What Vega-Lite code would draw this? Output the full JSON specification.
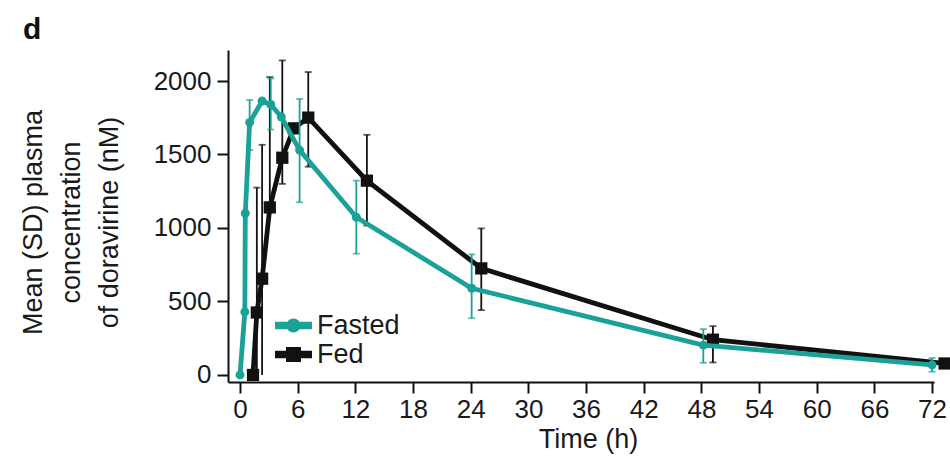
{
  "$schema": "https://vega.github.io/schema/vega-lite/v6.json",
  "autosize": {"type": "none"},
  "padding": {"left": 228, "top": 50, "right": 16, "bottom": 81},
  "width": 706,
  "height": 332,
  "background": "white",
  "title": {"text": "d", "anchor": "start", "frame": "group", "dx": -205, "dy": 32, "offset": 13, "baseline": "alphabetic", "fontSize": 30, "fontWeight": "bold", "font": "Liberation Sans", "color": "#111111"},
  "config": {
    "view": {"stroke": null},
    "font": "Liberation Sans",
    "axis": {"grid": false, "domainColor": "#111111", "domainWidth": 2, "tickColor": "#111111", "tickWidth": 2, "tickSize": 11, "labelFont": "Liberation Sans", "labelFontSize": 26, "labelColor": "#1a1a1a", "titleFont": "Liberation Sans", "titleFontSize": 27, "titleFontWeight": "normal", "titleColor": "#1a1a1a"}
  },
  "resolve": {"scale": {"color": "independent"}, "legend": {"color": "independent"}},
  "datasets": {
    "pk": [
      {"group": "Fasted", "time": 0, "conc": 0},
      {"group": "Fasted", "time": 0.5, "conc": 429},
      {"group": "Fasted", "time": 0.55, "conc": 1100},
      {"group": "Fasted", "time": 1.0, "conc": 1718, "lo": 1530, "hi": 1871},
      {"group": "Fasted", "time": 2.3, "conc": 1864},
      {"group": "Fasted", "time": 3.2, "conc": 1840, "lo": 1670, "hi": 2017},
      {"group": "Fasted", "time": 4.3, "conc": 1755},
      {"group": "Fasted", "time": 6.2, "conc": 1530, "lo": 1175, "hi": 1878},
      {"group": "Fasted", "time": 12.1, "conc": 1073, "lo": 825, "hi": 1322},
      {"group": "Fasted", "time": 24.1, "conc": 590, "lo": 386, "hi": 820},
      {"group": "Fasted", "time": 48.2, "conc": 203, "lo": 83, "hi": 312},
      {"group": "Fasted", "time": 72, "conc": 68, "lo": 22, "hi": 115},
      {"group": "Fed", "time": 1.35, "conc": 0},
      {"group": "Fed", "time": 1.75, "conc": 425, "lo": 0, "hi": 1275},
      {"group": "Fed", "time": 2.3, "conc": 655, "lo": 0, "hi": 1566},
      {"group": "Fed", "time": 3.1, "conc": 1140, "lo": 1140, "hi": 2027},
      {"group": "Fed", "time": 4.4, "conc": 1478, "lo": 1300, "hi": 2140},
      {"group": "Fed", "time": 5.6, "conc": 1678},
      {"group": "Fed", "time": 7.1, "conc": 1751, "lo": 1417, "hi": 2061},
      {"group": "Fed", "time": 13.2, "conc": 1322, "lo": 1017, "hi": 1634},
      {"group": "Fed", "time": 25.1, "conc": 725, "lo": 441, "hi": 997},
      {"group": "Fed", "time": 49.2, "conc": 240, "lo": 85, "hi": 332},
      {"group": "Fed", "time": 73.3, "conc": 78, "lo": 55, "hi": 100}
    ]
  },
  "data": {"name": "pk"},
  "encoding": {
    "x": {"field": "time", "type": "quantitative", "scale": {"domain": [-1.25, 72.2], "nice": false, "zero": false},
      "axis": {"values": [0, 6, 12, 18, 24, 30, 36, 42, 48, 54, 60, 66, 72], "title": "Time (h)", "labelPadding": 3, "titleY": 65, "titleBaseline": "alphabetic", "titleX": 360, "titleFontSize": 27}},
    "color": {"field": "group", "type": "nominal", "scale": {"domain": ["Fasted", "Fed"], "range": ["#1aa198", "#111111"]}, "legend": null}
  },
  "layer": [
    {
      "transform": [{"filter": "datum.group === 'Fed' && datum.hi != null"}],
      "mark": {"type": "rule", "strokeWidth": 1.8, "clip": false},
      "encoding": {
        "y": {"field": "lo", "type": "quantitative", "scale": {"domain": [-48, 2211], "nice": false, "zero": false},
          "axis": {"values": [0, 500, 1000, 1500, 2000], "format": "d", "labelPadding": 6, "title": ["Mean (SD) plasma", "concentration", "of doravirine (nM)"], "titleAngle": -90, "titleX": -187, "titleY": 172, "titleAlign": "center", "titleBaseline": "alphabetic", "titleLineHeight": 38}},
        "y2": {"field": "hi"}
      }
    },
    {
      "transform": [{"filter": "datum.group === 'Fed' && datum.hi != null"}],
      "mark": {"type": "tick", "orient": "horizontal", "size": 7, "thickness": 1.8},
      "encoding": {"y": {"field": "hi", "type": "quantitative"}}
    },
    {
      "transform": [{"filter": "datum.group === 'Fed' && datum.lo > 10"}],
      "mark": {"type": "tick", "orient": "horizontal", "size": 7, "thickness": 1.8},
      "encoding": {"y": {"field": "lo", "type": "quantitative"}}
    },
    {
      "transform": [{"filter": "datum.group === 'Fed'"}],
      "mark": {"type": "line", "strokeWidth": 4.8, "clip": false},
      "encoding": {"y": {"field": "conc", "type": "quantitative"}}
    },
    {
      "transform": [{"filter": "datum.group === 'Fed'"}],
      "mark": {"type": "point", "shape": "square", "filled": true, "opacity": 1, "size": 150, "clip": false},
      "encoding": {"y": {"field": "conc", "type": "quantitative"}}
    },
    {
      "transform": [{"filter": "datum.group === 'Fasted' && datum.hi != null"}],
      "mark": {"type": "rule", "strokeWidth": 1.8},
      "encoding": {"y": {"field": "lo", "type": "quantitative"}, "y2": {"field": "hi"}}
    },
    {
      "transform": [{"filter": "datum.group === 'Fasted' && datum.hi != null"}],
      "mark": {"type": "tick", "orient": "horizontal", "size": 7, "thickness": 1.8},
      "encoding": {"y": {"field": "hi", "type": "quantitative"}}
    },
    {
      "transform": [{"filter": "datum.group === 'Fasted' && datum.lo > 10"}],
      "mark": {"type": "tick", "orient": "horizontal", "size": 7, "thickness": 1.8},
      "encoding": {"y": {"field": "lo", "type": "quantitative"}}
    },
    {
      "transform": [{"filter": "datum.group === 'Fasted'"}],
      "mark": {"type": "line", "strokeWidth": 4.8},
      "encoding": {"y": {"field": "conc", "type": "quantitative"}}
    },
    {
      "transform": [{"filter": "datum.group === 'Fasted'"}],
      "mark": {"type": "point", "shape": "circle", "filled": true, "opacity": 1, "size": 80},
      "encoding": {"y": {"field": "conc", "type": "quantitative"}}
    },
    {
      "mark": {"type": "point", "filled": true, "opacity": 0},
      "encoding": {
        "y": {"field": "conc", "type": "quantitative"},
        "color": {"field": "group", "type": "nominal",
          "scale": {"domain": ["Fasted", "Fed"], "range": ["#1aa198", "#111111"]},
          "legend": {"orient": "none", "legendX": 52, "legendY": 262, "title": null, "symbolSize": 400, "symbolStrokeWidth": 0, "symbolOpacity": 1, "labelFont": "Liberation Sans", "labelFontSize": 27, "labelColor": "#1a1a1a", "labelOffset": 10, "rowPadding": 1, "padding": 0,
            "encode": {"symbols": {"update": {"shape": {"signal": "datum.value === 'Fed' ? 'M-1.85,-0.38L1.85,-0.38L1.85,0.38L-1.85,0.38Z M-0.75,-0.75L0.75,-0.75L0.75,0.75L-0.75,0.75Z' : 'M-1.85,-0.38L1.85,-0.38L1.85,0.38L-1.85,0.38Z M-0.7,0A0.7,0.7 0 1,1 0.7,0A0.7,0.7 0 1,1 -0.7,0Z'"}, "opacity": {"value": 1}}}}}}
      }
    }
  ]
}
